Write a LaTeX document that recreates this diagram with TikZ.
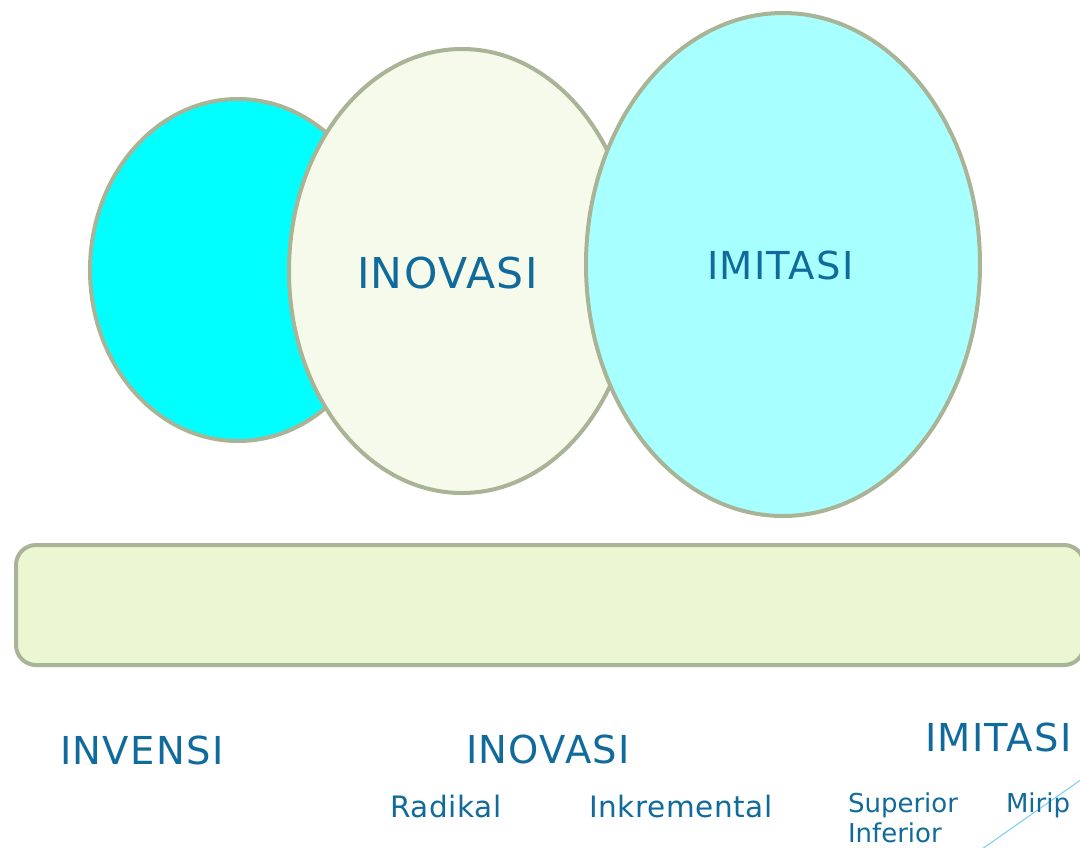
\documentclass[tikz,border=0pt]{standalone}
\usepackage{fontspec}
\setmainfont{DejaVu Sans}
\newfontfamily\widefont[LetterSpace=3.5]{DejaVu Sans}
\newfontfamily\midfont[LetterSpace=2]{DejaVu Sans}
\definecolor{txtblue}{RGB}{16,106,156}
\definecolor{edge}{RGB}{169,179,150}
\definecolor{cyanA}{RGB}{0,255,255}
\definecolor{creamB}{RGB}{245,250,235}
\definecolor{cyanC}{RGB}{168,255,255}
\definecolor{barfill}{RGB}{235,247,211}
\definecolor{thinblue}{RGB}{120,205,240}
\tikzset{
  blob/.style={draw=edge, line width=4pt},
  lbl/.style={text=txtblue, anchor=base west, inner sep=0pt, outer sep=0pt},
  big/.style={lbl, font=\widefont\fontsize{38.5}{44}\selectfont},
  mid/.style={lbl, font=\midfont\fontsize{29.5}{34}\selectfont},
  small/.style={lbl, font=\fontsize{26}{30}\selectfont}
}
\begin{document}
\begin{tikzpicture}[x=1pt,y=-1pt]
\useasboundingbox (0,0) rectangle (1080,847);
\begin{scope}
\clip (0,0) rectangle (1080,847);
% ellipses
\path[blob, fill=cyanA] (238,270) ellipse [x radius=148, y radius=171];
\path[blob, fill=creamB] (462,271) ellipse [x radius=173, y radius=222];
\path[blob, fill=cyanC] (783,264.5) ellipse [x radius=197, y radius=251.5];
% bar
\path[blob, fill=barfill, rounded corners=20pt] (16,545) rectangle (1084,665);
% thin diagonal line
\coordinate (d1) at (982,849);
\coordinate (d2) at (1082,779);
\draw[thinblue, line width=1pt] (d1) -- (d2);
\end{scope}
% labels in ellipses
\node[lbl, font=\widefont\fontsize{42.5}{48}\selectfont] (inovasiTop) at (357,288) {INOVASI};
\node[big] (imitasiTop) at (707,279) {IMITASI};
% bottom labels
\node[big] (invensi) at (60,764) {INVENSI};
\node[big] (inovasiBot) at (466,763) {INOVASI};
\node[big] (imitasiBot) at (925,751) {IMITASI};
\node[mid] (radikal) at (390,817) {Radikal};
\node[mid] (inkremental) at (589,817) {Inkremental};
\node[small] (superior) at (848,812) {Superior};
\node[small] (inferior) at (848,842) {Inferior};
\node[small] (mirip) at (1006,812) {Mirip};
\end{tikzpicture}
\end{document}
